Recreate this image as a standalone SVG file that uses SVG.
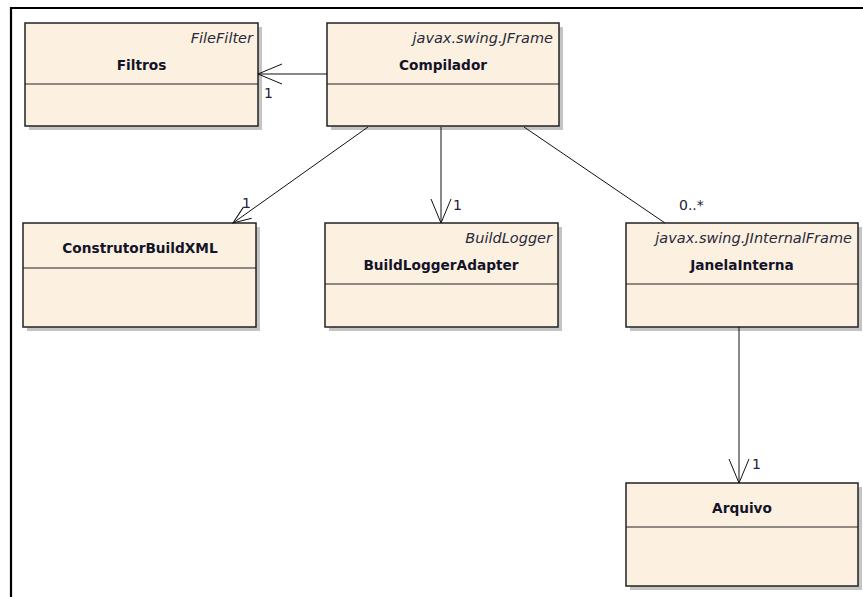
<svg xmlns="http://www.w3.org/2000/svg" width="863" height="597" viewBox="0 0 863 597">
  <style>
    .shadow { fill: #c4c4c4; }
    .box { fill: #fcf0e1; stroke: #222; stroke-width: 1.5; }
    .div { stroke: #222; stroke-width: 1.2; }
    .stereo { font-family: "DejaVu Sans", Verdana, sans-serif; font-size: 14.5px; font-style: italic; fill: #2a2a3a; text-anchor: end; }
    .name { font-family: "DejaVu Sans", Verdana, sans-serif; font-size: 13.7px; font-weight: bold; fill: #141428; text-anchor: middle; }
    .conn { stroke: #111; stroke-width: 1; fill: none; }
    .mult { font-family: "DejaVu Sans", Verdana, sans-serif; font-size: 14px; fill: #222238; }
  </style>
  <defs>
    <marker id="open" viewBox="0 0 26 22" refX="25" refY="11" markerWidth="26" markerHeight="22" markerUnits="userSpaceOnUse" orient="auto">
      <path d="M1,1 L25,11 L1,21" fill="none" stroke="#111" stroke-width="1"/>
    </marker>
    <marker id="openShort" viewBox="0 0 20 16" refX="19" refY="8" markerWidth="20" markerHeight="16" markerUnits="userSpaceOnUse" orient="auto">
      <path d="M1,1 L19,8 L1,15" fill="none" stroke="#111" stroke-width="1"/>
    </marker>
  </defs>
  <rect width="863" height="597" fill="#fff"/>
  <!-- frame -->
  <path d="M11,597 V8 H863" fill="none" stroke="#000" stroke-width="2.2"/>

  <g id="Filtros">
    <rect class="shadow" x="29" y="27" width="233" height="103"/>
    <rect class="box" x="25" y="23" width="233" height="103"/>
    <line class="div" x1="25" y1="84" x2="258" y2="84"/>
    <text class="stereo" x="253" y="43">FileFilter</text>
    <text class="name" x="141.5" y="70">Filtros</text>
  </g>

  <g id="Compilador">
    <rect class="shadow" x="331" y="27" width="232" height="103"/>
    <rect class="box" x="327" y="23" width="232" height="103"/>
    <line class="div" x1="327" y1="84" x2="559" y2="84"/>
    <text class="stereo" x="553" y="43">javax.swing.JFrame</text>
    <text class="name" x="443" y="70">Compilador</text>
  </g>

  <g id="ConstrutorBuildXML">
    <rect class="shadow" x="27" y="227" width="233" height="104"/>
    <rect class="box" x="23" y="223" width="233" height="104"/>
    <line class="div" x1="23" y1="268" x2="256" y2="268"/>
    <text class="name" x="140" y="253">ConstrutorBuildXML</text>
  </g>

  <g id="BuildLoggerAdapter">
    <rect class="shadow" x="329" y="227" width="233" height="104"/>
    <rect class="box" x="325" y="223" width="233" height="104"/>
    <line class="div" x1="325" y1="284" x2="558" y2="284"/>
    <text class="stereo" x="552" y="243">BuildLogger</text>
    <text class="name" x="441" y="270">BuildLoggerAdapter</text>
  </g>

  <g id="JanelaInterna">
    <rect class="shadow" x="630" y="227" width="232" height="104"/>
    <rect class="box" x="626" y="223" width="232" height="104"/>
    <line class="div" x1="626" y1="284" x2="858" y2="284"/>
    <text class="stereo" x="852" y="243">javax.swing.JInternalFrame</text>
    <text class="name" x="742" y="270">JanelaInterna</text>
  </g>

  <g id="Arquivo">
    <rect class="shadow" x="630" y="487" width="232" height="103"/>
    <rect class="box" x="626" y="483" width="232" height="103"/>
    <line class="div" x1="626" y1="527" x2="858" y2="527"/>
    <text class="name" x="742" y="513">Arquivo</text>
  </g>

  <g id="connectors">
    <line class="conn" x1="327" y1="74" x2="258" y2="74" marker-end="url(#open)"/>
    <text class="mult" x="264" y="98">1</text>
    <line class="conn" x1="368" y1="127" x2="233" y2="223" marker-end="url(#openShort)"/>
    <text class="mult" x="242" y="208">1</text>
    <line class="conn" x1="441" y1="127" x2="441" y2="223" marker-end="url(#open)"/>
    <text class="mult" x="453" y="210">1</text>
    <line class="conn" x1="524" y1="127" x2="665" y2="223"/>
    <text class="mult" x="679" y="210">0..*</text>
    <line class="conn" x1="739" y1="327" x2="739" y2="483" marker-end="url(#open)"/>
    <text class="mult" x="752" y="469">1</text>
  </g>
</svg>
